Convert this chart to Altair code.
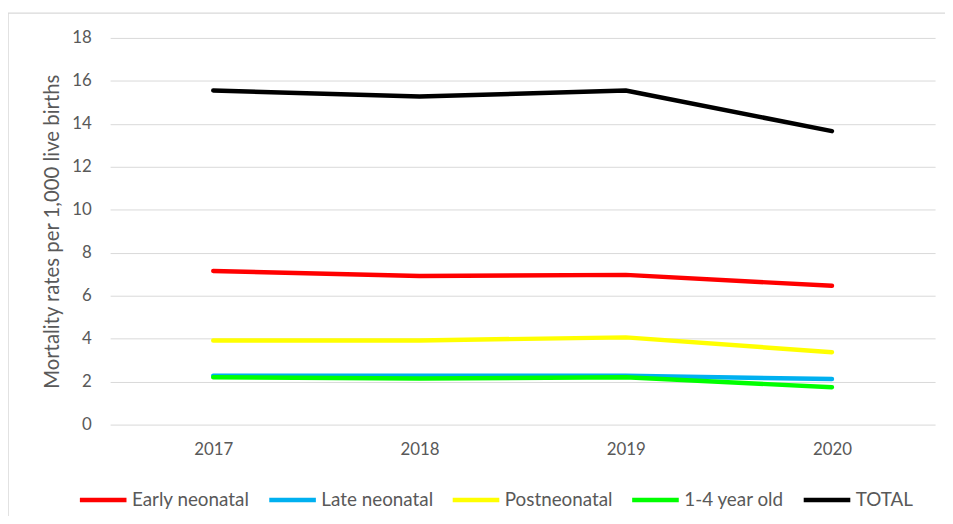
import altair as alt
import pandas as pd

years = ["2017", "2018", "2019", "2020"]
series = ["Early neonatal", "Late neonatal", "Postneonatal", "1-4 year old", "TOTAL"]
colors = ["#FF0000", "#00B0F0", "#FFFF00", "#00FF00", "#000000"]
early = [7.15, 6.92, 6.97, 6.46]
late = [2.27, 2.27, 2.27, 2.12]
post = [3.92, 3.92, 4.06, 3.37]
child = [2.20, 2.15, 2.20, 1.74]
total = [15.55, 15.27, 15.55, 13.66]

values = [early, late, post, child, total]
rows = []
for s, vals in zip(series, values):
    for y, v in zip(years, vals):
        rows.append({"year": y, "series": s, "value": v, "order": series.index(s)})
df = pd.DataFrame(rows)

FONT = "Lato"
GREY = "#595959"

lines = alt.Chart(df).mark_line(strokeWidth=4.5, strokeCap="round", strokeJoin="round").encode(
    x=alt.X("year:N", sort=years,
            scale=alt.Scale(type="point", padding=0.5),
            axis=alt.Axis(title=None, labelAngle=0, domain=False, ticks=False, grid=False,
                          labelPadding=17, labelFontSize=17, labelColor=GREY, labelFont=FONT)),
    y=alt.Y("value:Q",
            scale=alt.Scale(domain=[0, 18], nice=False),
            axis=alt.Axis(values=list(range(0, 19, 2)), title="Mortality rates per 1,000 live births",
                          domain=False, ticks=False, grid=True, gridColor="#d9d9d9", gridWidth=1,
                          labelPadding=19, labelFontSize=17, labelColor=GREY, labelFont=FONT,
                          titleFont=FONT, titleFontSize=20.5, titleColor=GREY, titleFontWeight="normal",
                          titleX=-58, titleY=195, titleAngle=270, titleAlign="center",
                          titleBaseline="middle")),
    color=alt.Color("series:N", sort=series,
                    scale=alt.Scale(domain=series, range=colors),
                    legend=alt.Legend(title=None, orient="none", direction="horizontal",
                                      legendX=-33, legendY=440, symbolType="stroke",
                                      symbolSize=2209, symbolStrokeWidth=4.5,
                                      labelFont=FONT, labelFontSize=19, labelColor=GREY,
                                      labelOffset=3, columnPadding=10)),
    order=alt.Order("order:Q"),
    detail="series:N",
)

border = alt.Chart(pd.DataFrame({"a": [0]})).mark_rect(
    fill="transparent", stroke="#d9d9d9", strokeWidth=1.5, clip=False
).encode(
    x=alt.value(-103), x2=alt.value(1000), y=alt.value(-25), y2=alt.value(1000)
)

chart = alt.layer(border, lines).properties(
    width=832, height=390,
    autosize=alt.AutoSizeParams(type="none"),
    padding={"left": 103, "top": 28, "right": 10, "bottom": 90},
).configure(background="white").configure_view(strokeWidth=0, stroke="transparent")

chart.save("out.html", embed_options={"renderer": "svg", "actions": False})
